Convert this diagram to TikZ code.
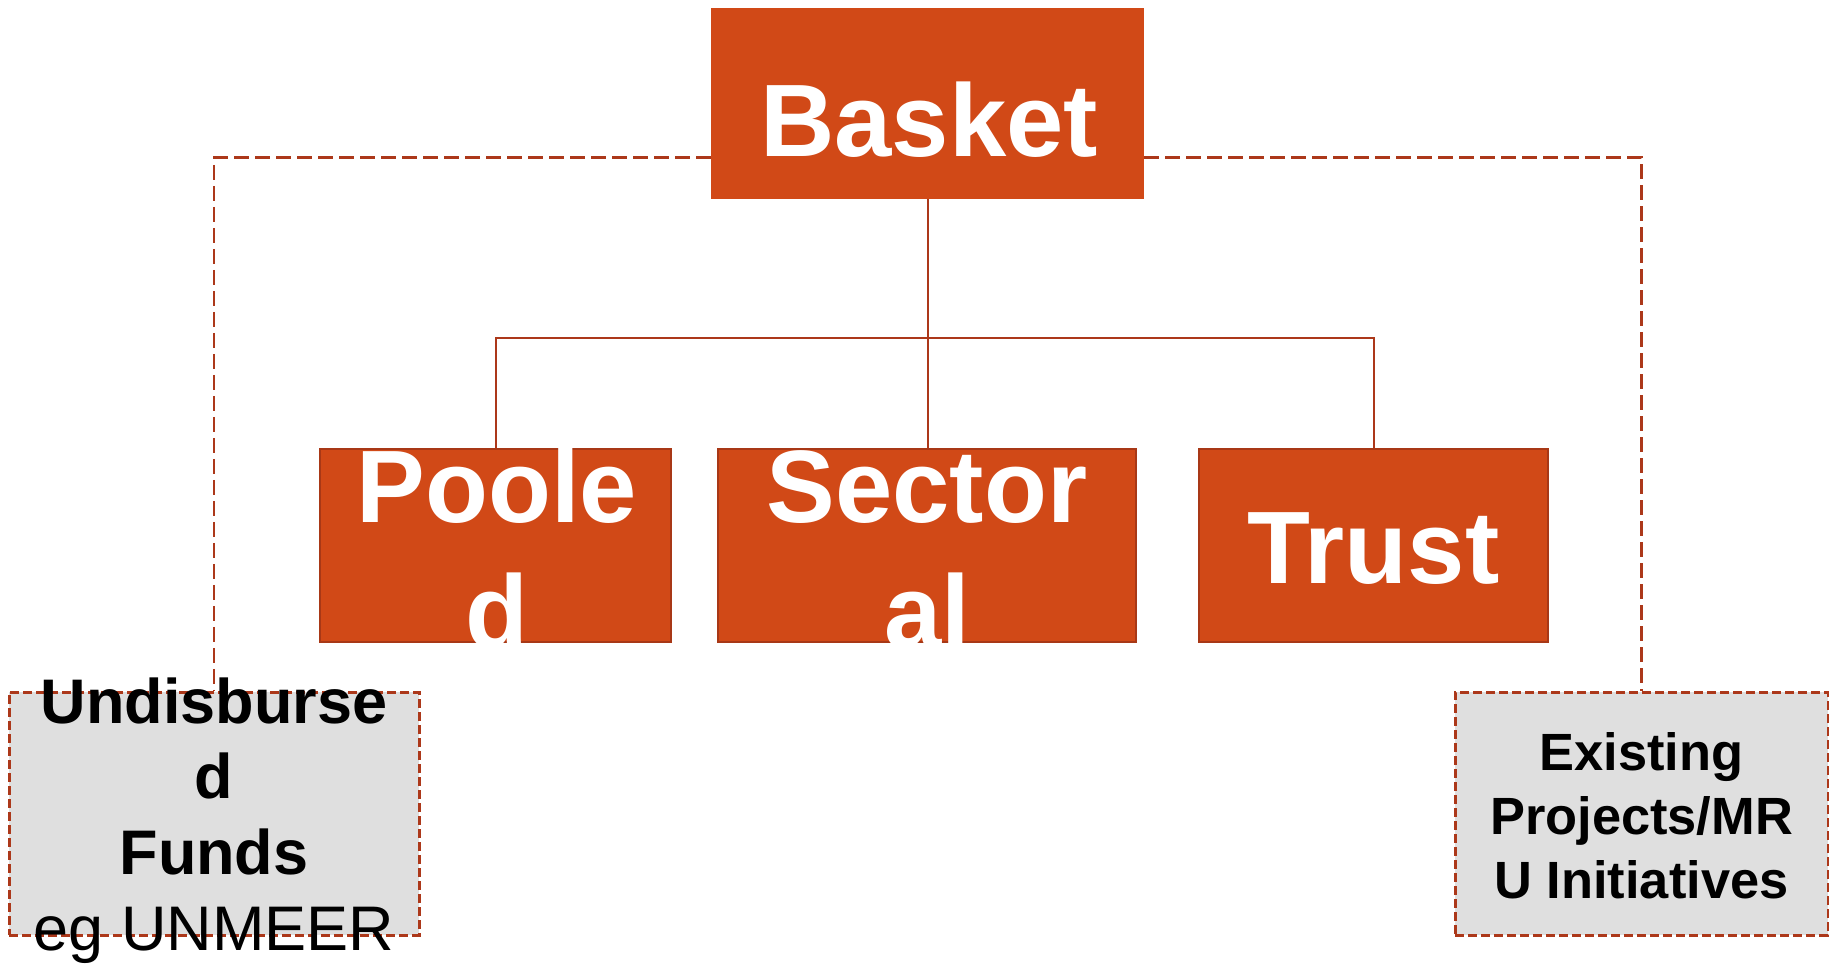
\documentclass[tikz,border=0pt]{standalone}
\usepackage{fontspec}
\setmainfont{Liberation Sans}
\usepackage{tikz}
\usetikzlibrary{positioning}
\usetikzlibrary{calc}
\definecolor{rust}{RGB}{209,73,23}
\definecolor{rustdark}{RGB}{168,56,22}
\definecolor{linered}{RGB}{172,56,26}
\definecolor{boxgray}{RGB}{223,223,223}
\tikzstyle{topbox}=[fill=rust,minimum width=216.5pt,minimum height=95.5pt,inner sep=0pt]
\tikzstyle{fundbox}=[fill=rust,draw=rustdark,line width=1pt,minimum height=96.5pt,inner sep=0pt]
\tikzstyle{sidebox}=[fill=boxgray,draw=linered,line width=1.5pt,dash pattern=on 4.5pt off 2pt,minimum height=121.5pt,inner sep=0pt]
\tikzstyle{bigtext}=[text=white,font=\bfseries\fontsize{51.5}{62.5}\selectfont,align=center,inner sep=0pt]
\tikzstyle{link}=[draw=linered,line width=1pt]
\tikzstyle{dashlink}=[draw=linered,line width=1.4pt,dash pattern=on 7.5pt off 3pt]

\begin{document}
\begin{tikzpicture}[x=0.5pt,y=-0.5pt]
\useasboundingbox (0,0) rectangle (1829,964);
\clip (0,0) rectangle (1829,964);
\node [topbox] (basket) at (927.5,103.5) {};
\node [fundbox,minimum width=175.5pt] (pooled) at (495.5,545.5) {};
\node [fundbox,minimum width=209pt] (sectoral) at (927,545.5) {};
\node [fundbox,minimum width=174.5pt] (trust) at (1373.5,545.5) {};
\node [sidebox,minimum width=205pt] (undisb) at (214,813.5) {};
\node [sidebox,minimum width=186.5pt] (existing) at (1641.5,813.5) {};

\coordinate (bus) at (927,338);
\draw [link] (basket.south) -- (basket.south |- sectoral.north);
\draw [link] (pooled.north) |- (bus) -| (trust.north);
\draw [dashlink] ($(basket.south west)+(0,-42)$) -| (undisb.north);
\draw [dashlink] ($(basket.south east)+(0,-42)$) -| (existing.north);

\node [bigtext,anchor=base] (baskettxt) at (929,156) {Basket};
\begin{scope}
\clip (pooled.south west) rectangle (pooled.north east);
\node [bigtext,anchor=base] (pooledtxt) at (497,647) {Poole\\d};
\end{scope}
\begin{scope}
\clip (sectoral.south west) rectangle (sectoral.north east);
\node [bigtext,anchor=base] (sectoraltxt) at (927,647) {Sector\\al};
\end{scope}
\node [bigtext,anchor=base] (trusttxt) at (1373.5,583) {Trust};
\node [anchor=base,align=center,inner sep=0pt,font=\bfseries\fontsize{31.5}{37.8}\selectfont] (undisbtxt) at (214,950) {Undisburse\\d\\Funds\\{\mdseries eg UNMEER}};
\node [anchor=base,align=center,inner sep=0pt,font=\bfseries\fontsize{26.2}{32}\selectfont] (existingtxt) at (1641.5,898) {Existing\\Projects/MR\\U Initiatives};
\end{tikzpicture}
\end{document}
